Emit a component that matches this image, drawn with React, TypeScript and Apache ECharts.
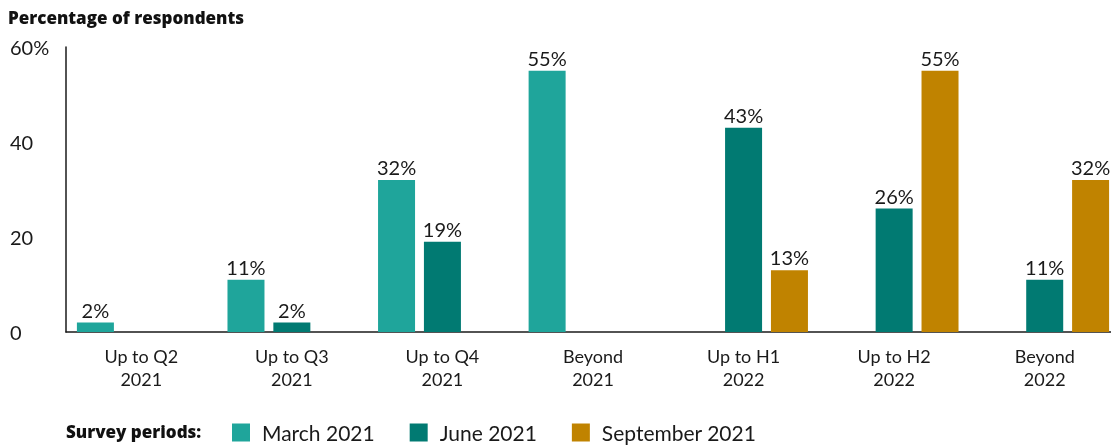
import React, { useEffect, useRef } from "react";
import * as echarts from "echarts";

const categories = [
  "Up to Q2\n2021",
  "Up to Q3\n2021",
  "Up to Q4\n2021",
  "Beyond\n2021",
  "Up to H1\n2022",
  "Up to H2\n2022",
  "Beyond\n2022",
];
const march2021 = [2, 11, 32, 55, null, null, null];
const june2021 = [null, 2, 19, null, 43, 26, 11];
const september2021 = [null, null, null, null, 13, 55, 32];
const seriesNames = ["March 2021", "June 2021", "September 2021"];
const colors = ["#1FA59B", "#017A72", "#C08300"];

const FONT = "Lato";

export default function App() {
  const ref = useRef<HTMLDivElement>(null);
  useEffect(() => {
    if (!ref.current) return;
    const chart = echarts.init(ref.current, null, { renderer: "svg" });
    const label = {
      show: true,
      position: "top",
      distance: 3,
      formatter: "{c}%",
      color: "#1a1a1a",
      fontFamily: FONT,
      fontSize: 20,
    };
    const mk = (name: string, data: (number | null)[], color: string) => ({
      name,
      type: "bar",
      data,
      barWidth: 37,
      barGap: "24%",
      itemStyle: { color },
      label,
    });
    chart.setOption({
      animation: false,
      textStyle: { fontFamily: FONT },
      grid: { left: 66, right: 5, top: 47, bottom: 113, containLabel: false },
      xAxis: {
        type: "category",
        data: categories,
        axisLine: { lineStyle: { color: "#1a1a1a", width: 1.5 } },
        axisTick: { show: false },
        axisLabel: {
          color: "#1a1a1a",
          fontFamily: FONT,
          fontSize: 18,
          lineHeight: 23,
          margin: 12,
          interval: 0,
        },
      },
      yAxis: {
        type: "value",
        min: 0,
        max: 60,
        interval: 20,
        axisLine: { show: true, lineStyle: { color: "#1a1a1a", width: 1.5 } },
        axisTick: { show: false },
        splitLine: { show: false },
        axisLabel: {
          color: "#1a1a1a",
          fontFamily: FONT,
          fontSize: 20,
          align: "left",
          margin: 56,
          formatter: (v: number) => (v === 60 ? "60%" : String(v)),
        },
      },
      legend: {
        left: 232,
        top: 422,
        padding: 0,
        itemWidth: 18,
        itemHeight: 18,
        itemGap: 35,
        icon: "rect",
        textStyle: {
          color: "#1a1a1a",
          fontFamily: FONT,
          fontSize: 21,
          lineHeight: 20,
          padding: [0, 0, 0, 7],
        },
        data: seriesNames,
      },
      graphic: [
        {
          type: "text",
          left: 8,
          top: 9,
          style: {
            text: "Percentage of respondents",
            font: `800 17px "Open Sans"`,
            fill: "#111",
          },
        },
        {
          type: "text",
          left: 66,
          top: 423,
          style: {
            text: "Survey periods:",
            font: `800 17px "Open Sans"`,
            fill: "#111",
          },
        },
      ],
      series: [
        mk(seriesNames[0], march2021, colors[0]),
        mk(seriesNames[1], june2021, colors[1]),
        mk(seriesNames[2], september2021, colors[2]),
      ],
    });
    return () => chart.dispose();
  }, []);
  return (
    <div
      style={{
        position: "fixed",
        left: 0,
        top: 0,
        width: 1111,
        height: 445,
        overflow: "hidden",
      }}
    >
      <div ref={ref} style={{ width: 1125, height: 445 }} />
    </div>
  );
}
